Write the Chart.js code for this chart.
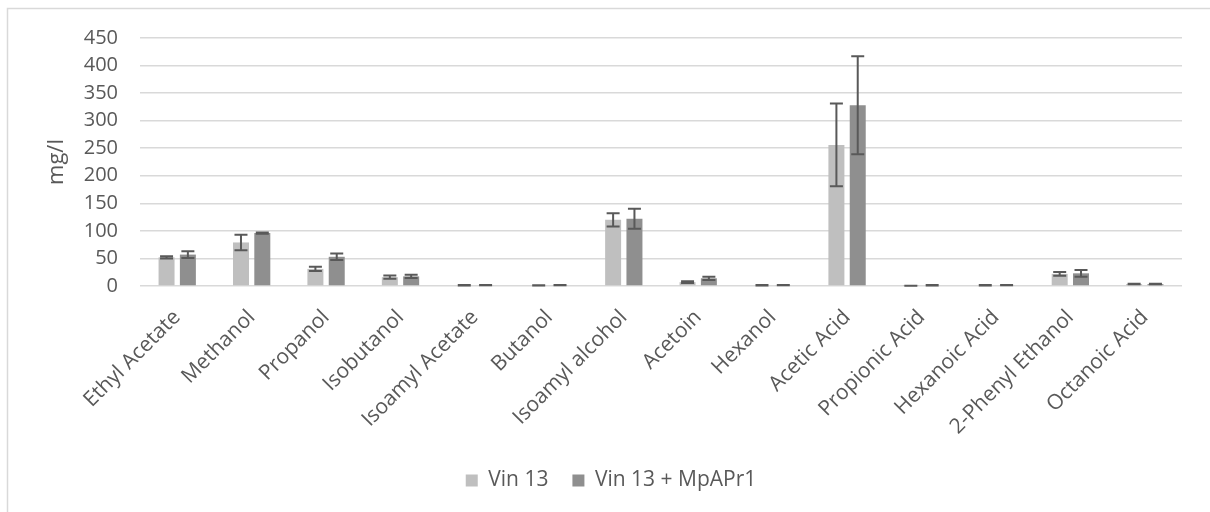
<!DOCTYPE html>
<html>
<head>
<meta charset="utf-8">
<script src="https://cdn.jsdelivr.net/npm/chart.js@4.4.1/dist/chart.umd.min.js"></script>
<style>
html,body{margin:0;padding:0;background:#fff;}
#wrap{position:relative;width:1210px;height:512px;}
</style>
</head>
<body>
<div id="wrap"><canvas id="c" width="1210" height="512"></canvas></div>
<script>
const categories = ['Ethyl Acetate','Methanol','Propanol','Isobutanol','Isoamyl Acetate','Butanol','Isoamyl alcohol','Acetoin','Hexanol','Acetic Acid','Propionic Acid','Hexanoic Acid','2-Phenyl Ethanol','Octanoic Acid'];
const seriesNames = ['Vin 13', 'Vin 13 + MpAPr1'];
const vin13 = [52, 79, 31, 16, 1.3, 1.2, 120, 7, 1.3, 256, 0.4, 1.4, 22, 3.5];
const vin13Err = [2, 14, 4, 3, 0.3, 0.3, 12, 1.5, 0.3, 75, 0.1, 0.3, 3.5, 0.5];
const mpapr1 = [57, 96, 53, 17.5, 1.5, 1.5, 122, 14, 1.5, 328, 1.4, 1.5, 23, 3.5];
const mpapr1Err = [6, 1, 6, 3, 0.3, 0.3, 18, 3, 0.3, 89, 0.3, 0.3, 6, 0.5];
const yTicks = [0, 50, 100, 150, 200, 250, 300, 350, 400, 450];
const yTitle = 'mg/l';

const errors = [vin13Err, mpapr1Err];
const FONT = "'Open Sans', sans-serif";
const TXT = '#595959';

const frame = {
  id: 'frame',
  beforeDraw(chart) {
    const ctx = chart.ctx;
    ctx.save();
    ctx.fillStyle = '#fff';
    ctx.fillRect(0, 0, chart.width, chart.height);
    ctx.strokeStyle = '#d9d9d9';
    ctx.lineWidth = 1.5;
    ctx.beginPath();
    ctx.moveTo(7.5, chart.height);
    ctx.lineTo(7.5, 8.5);
    ctx.lineTo(chart.width, 8.5);
    ctx.stroke();
    ctx.restore();
  }
};

const errorBars = {
  id: 'errorBars',
  afterDatasetsDraw(chart) {
    const ctx = chart.ctx;
    const y = chart.scales.y;
    ctx.save();
    ctx.strokeStyle = '#595959';
    ctx.lineWidth = 2;
    chart.data.datasets.forEach((ds, di) => {
      const meta = chart.getDatasetMeta(di);
      meta.data.forEach((bar, i) => {
        const v = ds.data[i], e = errors[di][i];
        const top = y.getPixelForValue(v + e);
        const bot = y.getPixelForValue(Math.max(v - e, 0));
        const x = bar.x, hw = 6.5;
        ctx.beginPath();
        ctx.moveTo(x, top); ctx.lineTo(x, bot);
        ctx.moveTo(x - hw, top); ctx.lineTo(x + hw, top);
        ctx.moveTo(x - hw, bot); ctx.lineTo(x + hw, bot);
        ctx.stroke();
      });
    });
    ctx.restore();
  }
};

const LEG_PAD = 24;

new Chart(document.getElementById('c'), {
  type: 'bar',
  data: {
    labels: categories,
    datasets: [
      { label: seriesNames[0], data: vin13, backgroundColor: '#bfbfbf', categoryPercentage: 0.573, barPercentage: 0.75 },
      { label: seriesNames[1], data: mpapr1, backgroundColor: '#8f8f8f', categoryPercentage: 0.573, barPercentage: 0.75 }
    ]
  },
  options: {
    responsive: false,
    animation: false,
    devicePixelRatio: 1,
    layout: { padding: { left: 40, right: 28, top: 38, bottom: 11 } },
    plugins: {
      tooltip: { enabled: false },
      legend: {
        position: 'bottom',
        labels: {
          font: { family: FONT, size: 21 },
          color: TXT,
          boxWidth: 12,
          boxHeight: 12,
          padding: LEG_PAD
        }
      }
    },
    scales: {
      x: {
        grid: { display: false },
        border: { display: false },
        ticks: {
          autoSkip: false,
          minRotation: 45,
          maxRotation: 45,
          padding: 11,
          color: TXT,
          font: { family: FONT, size: 21 }
        },
        afterFit(s) { s.height = 160; }
      },
      y: {
        min: 0,
        max: 450,
        afterBuildTicks(s) { s.ticks = yTicks.map(v => ({ value: v })); },
        grid: { color: '#d9d9d9', lineWidth: 1.5, drawTicks: false },
        border: { display: false },
        ticks: {
          padding: 22,
          color: TXT,
          font: { family: FONT, size: 20 }
        },
        title: {
          display: true,
          text: yTitle,
          color: TXT,
          font: { family: FONT, size: 22, lineHeight: 1 },
          padding: { top: 6, bottom: 0 }
        },
        afterFit(s) { s.width = 100; }
      }
    }
  },
  plugins: [frame, errorBars]
});
</script>
</body>
</html>
